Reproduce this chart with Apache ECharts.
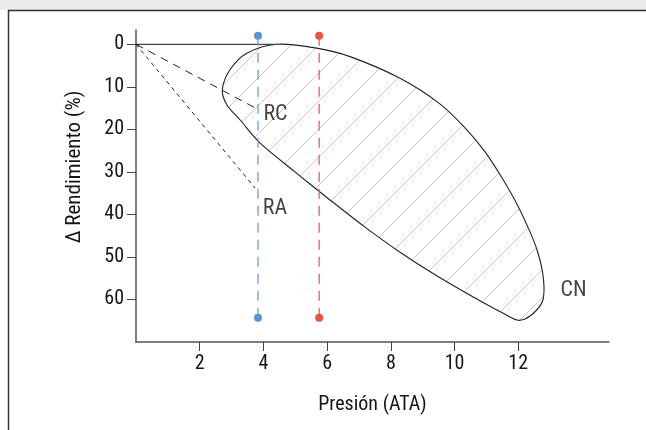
<!DOCTYPE html>
<html>
<head>
<meta charset="utf-8">
<script src="https://cdn.jsdelivr.net/npm/echarts@6/dist/echarts.min.js"></script>
<style>
html,body{margin:0;padding:0;background:#fff;}
#c{width:646px;height:430px;}
</style>
</head>
<body>
<div id="c"></div>
<script>
// ---- data ----
const xTicks = [2, 4, 6, 8, 10, 12];
const yTicks = [0, 10, 20, 30, 40, 50, 60];
const xTitle = 'Presión (ATA)';
const yTitle = 'Δ Rendimiento (%)';
// CN region outline (Presión ATA, Δ Rendimiento %)
const cnX = [4.43, 5.67, 6.72, 8.29, 9.54, 10.33, 10.96, 11.49, 11.99, 12.37, 12.59, 12.75, 12.81, 12.74, 12.37, 12.00, 11.59, 10.49, 9.39, 8.29, 7.19, 6.09, 4.99, 3.89, 3.27, 2.85, 2.71, 2.95, 3.48];
const cnY = [0.0, 0.9, 2.9, 8.0, 14.0, 19.65, 25.3, 31.4, 38.0, 44.1, 48.3, 53.0, 57.7, 60.8, 63.9, 64.9, 63.5, 59.0, 54.2, 48.9, 43.0, 36.6, 30.0, 23.2, 17.8, 14.2, 10.7, 6.0, 2.1];
// plateau line from origin to CN top
const plateauX = [0, 4.43];
const plateauY = [0, 0];
// RC and RA dashed lines
const rcX = [0, 3.83], rcY = [0, 15.3];
const raX = [0, 3.74], raY = [0, 33.8];
// vertical markers
const blueX = [3.83, 3.83], blueY = [-2.0, 64.3];
const redX = [5.75, 5.75], redY = [-2.0, 64.3];
// text labels
const labelNames = ['RC', 'RA', 'CN'];
const labelX = [4.0, 3.98, 13.33];
const labelY = [16.6, 38.6, 57.8];

const zip = (xs, ys) => xs.map((x, i) => [x, ys[i]]);

// hatch pattern
const tile = document.createElement('canvas');
const T = 28;
tile.width = T; tile.height = T;
const tc = tile.getContext('2d');
tc.strokeStyle = '#c8c8c8';
tc.lineWidth = 1;
tc.beginPath();
tc.moveTo(-2, T + 2); tc.lineTo(T + 2, -2);
tc.stroke();

const FONT = '"Liberation Sans Narrow", "Roboto Condensed", "Liberation Sans", sans-serif';
const TXT = '#151515';

const chart = echarts.init(document.getElementById('c'), null, {renderer: 'canvas'});
chart.setOption({
  animation: false,
  backgroundColor: '#fff',
  graphic: [
    {type: 'rect', shape: {x: 0, y: 0, width: 646, height: 10}, style: {fill: '#ebebea'}, silent: true},
    {type: 'line', shape: {x1: 8, y1: 10.5, x2: 646, y2: 10.5}, style: {stroke: '#333', lineWidth: 1.5}, silent: true},
    {type: 'line', shape: {x1: 8.5, y1: 10, x2: 8.5, y2: 430}, style: {stroke: '#333', lineWidth: 1.5}, silent: true},
    {type: 'text', x: 75, y: 167, rotation: Math.PI / 2, silent: true,
      style: {text: yTitle, align: 'center', verticalAlign: 'middle', fill: TXT,
        fontSize: 21, fontFamily: FONT}}
  ],
  grid: {left: 136, top: 30, right: 37, bottom: 88, containLabel: false},
  xAxis: {
    type: 'value', min: 0, max: 14.85,
    axisLine: {show: true, onZero: false, lineStyle: {color: '#555', width: 1.5}},
    axisTick: {show: true, length: 9, customValues: xTicks, lineStyle: {color: '#444', width: 1}},
    axisLabel: {customValues: xTicks, color: TXT, fontSize: 20, fontFamily: FONT, margin: 12},
    splitLine: {show: false},
    name: xTitle, nameLocation: 'middle', nameGap: 53,
    nameTextStyle: {color: TXT, fontSize: 20, fontFamily: FONT}
  },
  yAxis: {
    type: 'value', inverse: true, min: -3.36, max: 70,
    axisLine: {show: true, onZero: false, lineStyle: {color: '#555', width: 1.5}},
    axisTick: {show: true, length: 9, customValues: yTicks, lineStyle: {color: '#444', width: 1}},
    axisLabel: {customValues: yTicks, color: TXT, fontSize: 20, fontFamily: FONT, margin: 12},
    splitLine: {show: false}
  },
  series: [
    {
      type: 'custom', name: 'CN', data: [[0, 0]],
      renderItem: function (params, api) {
        const pts = zip(cnX, cnY).map(p => api.coord(p));
        return {
          type: 'polygon',
          shape: {points: pts, smooth: 0.3},
          style: {fill: {image: tile, repeat: 'repeat'}, stroke: '#222', lineWidth: 1.1}
        };
      },
      z: 2
    },
    {type: 'line', data: zip(plateauX, plateauY), symbol: 'none', lineStyle: {color: '#444', width: 1.3}, z: 3},
    {type: 'line', data: zip(rcX, rcY), symbol: 'none', lineStyle: {color: '#222', width: 1, type: [8, 6]}, z: 3},
    {type: 'line', data: zip(raX, raY), symbol: 'none', lineStyle: {color: '#222', width: 1, type: [4, 4]}, z: 3},
    {type: 'line', data: zip(blueX, blueY), symbol: 'circle', symbolSize: 8, itemStyle: {color: '#5b93d3'},
      lineStyle: {color: '#6a9fd8', width: 1.3, type: [10, 7]}, z: 4},
    {type: 'line', data: zip(redX, redY), symbol: 'circle', symbolSize: 8, itemStyle: {color: '#e8553f'},
      lineStyle: {color: '#e8604c', width: 1.3, type: [10, 7]}, z: 4},
    {
      type: 'scatter', symbolSize: 0, z: 5,
      data: labelNames.map((n, i) => ({value: [labelX[i], labelY[i]], name: n})),
      label: {show: true, position: 'right', distance: 0, formatter: p => p.name,
        color: TXT, fontSize: 22, fontFamily: FONT}
    }
  ]
});
</script>
</body>
</html>
